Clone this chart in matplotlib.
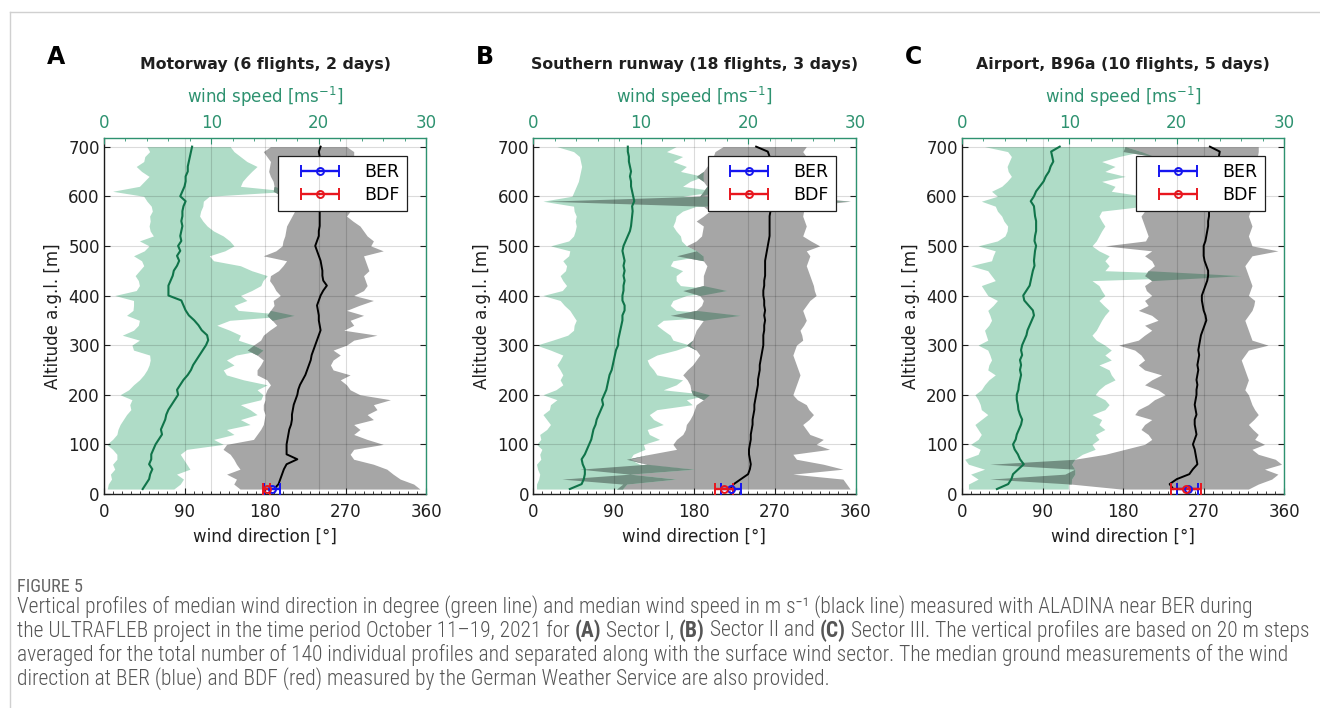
import numpy as np
import matplotlib
matplotlib.use("Agg")
import matplotlib.pyplot as plt
from matplotlib.lines import Line2D
from matplotlib.ticker import MultipleLocator, FixedLocator
from matplotlib.colors import to_rgb
from matplotlib.legend_handler import HandlerErrorbar
from matplotlib.container import ErrorbarContainer

plt.rcParams["font.family"] = ["DejaVu Sans"]
plt.rcParams["mathtext.default"] = "regular"

W, H, DPI = 1320, 708, 100

# altitude above ground level [m], 10 m bins
ALT = np.arange(10, 701, 10)

# ---------------- Sector I: Motorway ----------------
A_SPD_MED = [3.6, 3.9, 4.2, 4.3, 4.5, 4.2, 4.4, 4.4, 4.6, 4.8,
             5.1, 5.4, 5.3, 5.5, 5.7, 5.8, 6.0, 6.3, 6.6, 6.9,
             6.8, 7.1, 7.4, 7.8, 8.1, 8.3, 8.6, 8.9, 9.2, 9.5,
             9.7, 9.6, 9.1, 8.8, 8.4, 7.9, 7.6, 7.4, 7.2, 6.0,
             6.0, 6.0, 6.2, 6.4, 6.5, 6.8, 7.0, 6.8, 7.1, 6.9,
             7.2, 7.1, 7.2, 7.3, 7.2, 7.3, 7.3, 7.4, 7.6, 7.1,
             7.3, 7.5, 7.6, 7.6, 7.8, 7.8, 7.9, 8.0, 8.1, 8.2]
A_SPD_LO = [0.3, 0.4, 0.7, 0.6, 1.0, 0.8, 1.2, 1.2, 0.8, 0.25,
            0.8, 1.2, 1.3, 1.5, 1.8, 2.1, 2.5, 2.4, 2.6, 1.5,
            2.3, 2.75, 3.3, 3.7, 4.0, 4.2, 4.3, 4.25, 2.75, 2.6,
            3.3, 1.7, 2.75, 3.2, 3.3, 2.1, 2.7, 2.75, 2.75, 1.0,
            3.0, 3.3, 3.2, 2.9, 3.3, 3.7, 3.5, 2.75, 3.75, 4.2,
            3.3, 4.6, 4.3, 4.2, 4.3, 4.25, 4.5, 4.4, 4.0, 3.7,
            0.8, 3.3, 3.75, 4.2, 3.5, 3.0, 3.7, 3.8, 4.25, 4.0]
A_SPD_HI = [6.5, 7.1, 7.4, 6.75, 8.0, 7.7, 7.4, 7.1, 7.7, 11.1,
            10.2, 12.1, 11.4, 13.6, 12.7, 14.25, 13.6, 12.7, 14.6, 14.8,
            14.25, 15.2, 13.0, 11.4, 11.1, 12.1, 11.4, 12.3, 14.8, 13.9,
            12.5, 12.7, 11.7, 10.5, 11.7, 17.7, 12.5, 12.1, 13.3, 12.7,
            13.75, 14.6, 14.8, 15.2, 13.75, 12.7, 10.2, 9.8, 11.25, 12.1,
            11.7, 11.1, 10.2, 9.6, 9.2, 8.9, 9.0, 9.2, 9.25, 9.8,
            17.3, 12.7, 12.9, 13.3, 13.75, 14.25, 13.3, 12.7, 12.1, 11.75]
A_DIR_MED = [190, 195, 197, 199, 201, 204, 216, 204, 204, 204,
             205, 206, 207, 209, 210, 210, 211, 212, 214, 216,
             217, 219, 222, 225, 227, 229, 231, 232, 234, 236,
             238, 240, 242, 241, 240, 240, 239, 238, 240, 242,
             245, 249, 245, 244, 244, 243, 242, 240, 238, 236,
             238, 240, 240, 241, 241, 241, 241, 242, 242, 242,
             242, 242, 242, 242, 242, 242, 241, 241, 240, 242]
A_DIR_LO = [152, 145, 148, 137, 152, 148, 145, 141, 133, 137,
            167, 171, 175, 178, 179, 180, 178, 178, 180, 180,
            182, 186, 182, 171, 171, 175, 178, 171, 160, 167,
            175, 178, 185, 193, 188, 182, 186, 190, 189, 197,
            192, 189, 185, 186, 195, 200, 204, 178, 192, 199,
            200, 202, 203, 204, 207, 210, 213, 215, 212, 200,
            189, 190, 189, 186, 184, 185, 186, 182, 178, 186]
A_DIR_HI = [353, 346, 331, 323, 316, 301, 279, 275, 279, 312,
            294, 279, 286, 279, 301, 294, 305, 301, 320, 286,
            275, 271, 264, 275, 256, 253, 256, 264, 256, 271,
            279, 305, 268, 279, 275, 290, 271, 285, 301, 279,
            290, 294, 292, 290, 296, 294, 292, 290, 312, 298,
            301, 294, 290, 286, 278, 271, 275, 280, 285, 285,
            285, 280, 280, 275, 275, 275, 278, 279, 279, 271]

# ---------------- Sector II: Southern runway ----------------
B_SPD_MED = [3.4, 4.5, 4.7, 4.8, 4.8, 4.6, 4.5, 4.8, 5.0, 5.2,
             5.4, 5.5, 5.6, 5.8, 5.9, 6.1, 6.3, 6.5, 6.4, 6.6,
             6.8, 6.9, 7.0, 7.1, 7.3, 7.4, 7.5, 7.6, 7.7, 7.9,
             7.9, 8.0, 8.1, 8.2, 8.3, 8.3, 8.5, 8.5, 8.3, 8.3,
             8.4, 8.4, 8.5, 8.4, 8.5, 8.4, 8.5, 8.4, 8.3, 8.4,
             8.6, 8.8, 9.0, 9.1, 9.15, 9.2, 9.25, 9.2, 9.4, 9.3,
             9.2, 9.1, 9.1, 9.0, 9.1, 9.0, 8.9, 8.9, 8.8, 8.8]
B_SPD_LO = [0.3, 0.3, 0.5, 0.6, 0.4, 0.3, 0.7, 0.6, 0.8, 0.3,
            0.7, 0.6, 1.25, 1.6, 1.25, 0.9, 1.5, 1.6, 2.2, 0.9,
            2.1, 2.75, 2.5, 2.75, 2.5, 2.2, 2.5, 2.75, 1.6, 0.3,
            1.8, 3.2, 3.75, 3.8, 4.0, 3.7, 3.4, 2.9, 2.5, 0.9,
            2.7, 3.1, 2.75, 2.5, 3.0, 3.1, 2.75, 3.3, 3.4, 1.6,
            3.3, 3.75, 3.9, 4.0, 3.9, 4.0, 3.8, 3.75, 0.9, 3.6,
            3.8, 4.0, 4.2, 4.3, 4.4, 4.5, 4.4, 4.3, 3.75, 2.2]
B_SPD_HI = [8.3, 8.7, 13.3, 9.0, 15.0, 9.9, 9.0, 9.3, 10.4, 10.25,
            11.75, 10.8, 10.6, 12.1, 11.2, 10.8, 11.5, 14.8, 14.25, 16.4,
            12.1, 13.3, 13.9, 11.5, 11.2, 10.8, 10.6, 11.5, 13.3, 14.6,
            13.0, 12.75, 12.1, 11.5, 12.1, 19.25, 13.3, 12.75, 13.0, 14.25,
            18.0, 13.7, 13.3, 13.3, 13.9, 12.75, 13.0, 15.8, 15.2, 14.25,
            13.8, 13.7, 13.3, 13.0, 13.2, 13.3, 13.9, 15.2, 29.5, 13.9,
            17.1, 13.9, 14.6, 15.8, 13.7, 14.25, 13.0, 13.9, 12.4, 13.3]
B_DIR_MED = [220, 224, 232, 240, 242, 243, 242, 241, 241, 242,
             243, 243, 244, 245, 245, 246, 247, 247, 248, 249,
             250, 251, 251, 252, 253, 253, 254, 255, 256, 257,
             257, 257, 258, 258, 259, 258, 259, 258, 258, 257,
             257, 258, 258, 259, 259, 259, 259, 260, 261, 262,
             263, 264, 264, 264, 264, 264, 265, 265, 265, 265,
             265, 265, 265, 265, 264, 264, 264, 264, 262, 249]
B_DIR_LO = [93, 100, 32, 108, 52, 127, 104, 130, 160, 156,
            160, 167, 170, 171, 175, 178, 180, 182, 190, 178,
            176, 175, 172, 167, 172, 178, 182, 186, 182, 171,
            178, 180, 182, 186, 190, 153, 182, 188, 190, 186,
            167, 190, 190, 190, 192, 194, 190, 160, 182, 171,
            182, 188, 189, 190, 182, 190, 197, 190, 15, 186,
            190, 194, 190, 182, 190, 194, 198, 201, 203, 212]
B_DIR_HI = [354, 350, 346, 290, 346, 324, 294, 290, 331, 316,
            324, 309, 305, 301, 308, 313, 308, 305, 295, 290,
            292, 294, 296, 298, 296, 294, 292, 290, 292, 294,
            301, 300, 298, 302, 305, 303, 301, 305, 309, 316,
            314, 313, 311, 309, 307, 305, 307, 309, 305, 320,
            310, 301, 303, 305, 303, 301, 302, 303, 354, 303,
            303, 303, 303, 303, 303, 303, 304, 305, 301, 305]

# ---------------- Sector III: Airport, B96a ----------------
C_SPD_MED = [3.25, 4.3, 4.6, 4.75, 5.25, 5.75, 5.4, 5.2, 4.9, 4.75,
             5.0, 5.1, 5.3, 5.5, 5.6, 5.4, 5.25, 5.2, 5.1, 5.1,
             5.25, 5.3, 5.4, 5.5, 5.4, 5.5, 5.4, 5.6, 5.5, 5.6,
             5.8, 6.0, 6.1, 6.3, 6.5, 6.7, 6.6, 6.2, 5.8, 5.7,
             6.0, 6.3, 6.4, 6.5, 6.6, 6.75, 6.7, 6.75, 6.8, 6.9,
             6.75, 6.8, 6.9, 6.9, 6.9, 6.8, 6.75, 6.7, 6.4, 6.7,
             6.9, 7.25, 7.6, 7.8, 8.1, 8.25, 8.5, 8.4, 8.3, 9.1]
C_SPD_LO = [0.6, 0.6, 1.5, 0.8, 2.1, 0.6, 0.25, 1.5, 1.7, 0.8,
            1.5, 1.8, 1.5, 1.2, 1.8, 2.4, 1.8, 1.7, 1.5, 1.2,
            1.8, 2.1, 2.5, 3.1, 2.4, 2.5, 2.75, 2.6, 2.4, 1.5,
            2.4, 2.25, 2.1, 2.5, 2.75, 2.6, 2.4, 2.9, 3.3, 2.4,
            2.1, 1.8, 3.1, 2.75, 2.4, 0.8, 2.75, 2.9, 3.1, 1.5,
            3.3, 4.0, 4.2, 4.25, 3.9, 3.7, 3.3, 3.1, 1.8, 3.3,
            2.75, 3.7, 4.2, 4.6, 4.3, 4.2, 4.4, 4.6, 4.25, 2.1]
C_SPD_HI = [9.9, 9.9, 10.2, 10.5, 10.5, 10.2, 10.5, 11.2, 12.4, 12.1,
            12.75, 12.4, 13.3, 12.75, 13.0, 12.1, 13.3, 13.7, 13.3, 12.4,
            12.75, 13.3, 14.25, 13.9, 13.7, 12.75, 13.9, 13.3, 13.9, 13.3,
            12.5, 12.1, 12.5, 12.75, 13.0, 13.3, 13.7, 13.2, 12.75, 13.3,
            13.0, 12.75, 12.1, 26.0, 13.3, 13.7, 13.3, 13.7, 12.75, 12.1,
            12.5, 12.75, 13.0, 13.3, 13.0, 12.75, 13.0, 17.0, 18.25, 17.0,
            13.9, 14.25, 13.0, 15.2, 13.3, 14.25, 13.0, 14.6, 16.7, 15.2]
C_DIR_MED = [236, 232, 240, 254, 258, 263, 262, 261, 260, 258,
             260, 262, 261, 260, 260, 262, 261, 260, 261, 262,
             262, 263, 262, 263, 264, 263, 264, 265, 264, 265,
             266, 267, 269, 271, 273, 272, 270, 269, 268, 268,
             270, 272, 274, 275, 275, 273, 271, 270, 270, 270,
             272, 273, 274, 275, 275, 276, 276, 277, 277, 277,
             278, 278, 279, 280, 281, 283, 285, 287, 288, 277]
C_DIR_LO = [178, 122, 31, 115, 126, 31, 126, 160, 182, 204,
            212, 208, 200, 204, 212, 193, 197, 208, 215, 227,
            219, 204, 212, 223, 204, 197, 204, 200, 193, 175,
            197, 204, 212, 204, 219, 212, 197, 208, 204, 212,
            206, 204, 212, 204, 208, 215, 212, 204, 212, 160,
            205, 208, 206, 204, 202, 200, 204, 205, 208, 210,
            205, 200, 200, 200, 200, 200, 205, 215, 180, 182]
C_DIR_HI = [320, 331, 346, 353, 338, 357, 350, 331, 324, 338,
            327, 331, 325, 320, 326, 331, 327, 324, 322, 320,
            316, 318, 320, 318, 316, 314, 312, 316, 320, 342,
            324, 322, 320, 318, 316, 320, 324, 326, 327, 320,
            322, 324, 322, 320, 318, 316, 320, 324, 353, 324,
            322, 320, 322, 324, 322, 320, 322, 324, 325, 325,
            325, 325, 325, 325, 325, 325, 328, 330, 331, 331]

# ground stations: median wind direction and spread [deg]
GROUND_ALT = 10
BER_DIR = [188, 221, 252]
BER_ERR = [9, 11, 12]
BDF_DIR = [182, 213, 250]
BDF_ERR = [4, 10, 17]

LETTERS = ["A", "B", "C"]
TITLES = ["Motorway (6 flights, 2 days)",
          "Southern runway (18 flights, 3 days)",
          "Airport, B96a (10 flights, 5 days)"]

DIR_TICKS = [0, 90, 180, 270, 360]
SPD_TICKS = [0, 10, 20, 30]
ALT_TICKS = [0, 100, 200, 300, 400, 500, 600, 700]
DIR_LIM = (0, 360)
SPD_LIM = (0, 30)
ALT_LIM = (0, 718)

GREEN_FILL = "#afdcc7"
GREY_FILL = "#a6a6a6"
GREEN_LINE = "#10744a"
GREEN_AXIS = "#2e9270"
BLUE = "#1515f0"
RED = "#e8161e"
INK = "#1f1f1f"
TEXT_GREY = "#555555"
# where the two envelopes overlap the colours combine multiplicatively
OVERLAP = tuple(a * b for a, b in zip(to_rgb(GREEN_FILL), to_rgb(GREY_FILL)))

panels = [
    (A_SPD_MED, A_SPD_LO, A_SPD_HI, A_DIR_MED, A_DIR_LO, A_DIR_HI),
    (B_SPD_MED, B_SPD_LO, B_SPD_HI, B_DIR_MED, B_DIR_LO, B_DIR_HI),
    (C_SPD_MED, C_SPD_LO, C_SPD_HI, C_DIR_MED, C_DIR_LO, C_DIR_HI),
]

fig = plt.figure(figsize=(W / DPI, H / DPI), dpi=DPI)
fig.patch.set_facecolor("white")


def fx(px):
    return px / W


def fy(py):
    return 1 - py / H


# page frame
fig.add_artist(Line2D([fx(10), 1.0], [fy(12), fy(12)], color="#d0d0d0", lw=1.0))
fig.add_artist(Line2D([fx(10), fx(10)], [fy(12), 0.0], color="#d0d0d0", lw=1.0))

AX_LEFT = [104, 533.3, 962]
AX_W = 322.2
AX_TOP, AX_BOT = 137.7, 494
FS = 12

for i, (spd_med, spd_lo, spd_hi, dir_med, dir_lo, dir_hi) in enumerate(panels):
    x0 = AX_LEFT[i]
    ax = fig.add_axes([fx(x0), fy(AX_BOT), fx(AX_W), (AX_BOT - AX_TOP) / H])
    ax2 = ax.twiny()
    ax.set_xlim(*DIR_LIM)
    ax.set_ylim(*ALT_LIM)
    ax2.set_xlim(*SPD_LIM)

    spd_lo = np.asarray(spd_lo, float)
    spd_hi = np.asarray(spd_hi, float)
    dir_lo = np.asarray(dir_lo, float)
    dir_hi = np.asarray(dir_hi, float)

    # wind direction envelope (grey)
    ax.fill_betweenx(ALT, dir_lo, dir_hi, color=GREY_FILL, lw=0, zorder=1)
    # wind speed envelope (green), drawn in speed units via the top axis
    ax.fill_betweenx(ALT, spd_lo, spd_hi, color=GREEN_FILL, lw=0, zorder=1.1,
                     transform=ax2.transData)
    # overlap of both envelopes, expressed in direction units
    scale = (DIR_LIM[1] - DIR_LIM[0]) / (SPD_LIM[1] - SPD_LIM[0])
    ov_lo = np.maximum(spd_lo * scale, dir_lo)
    ov_hi = np.minimum(spd_hi * scale, dir_hi)
    ax.fill_betweenx(ALT, ov_lo, np.maximum(ov_lo, ov_hi), color=OVERLAP, lw=0,
                     zorder=1.2)

    ax.plot(spd_med, ALT, color=GREEN_LINE, lw=1.5, zorder=2,
            transform=ax2.transData)
    ax.plot(dir_med, ALT, color="black", lw=1.4, zorder=2)

    eb_kw = dict(fmt="o", ms=5, mfc="none", mew=1.4, elinewidth=1.7, capsize=4.5,
                 capthick=1.7, zorder=3)
    h_ber = ax.errorbar(BER_DIR[i], GROUND_ALT, xerr=BER_ERR[i], color=BLUE, **eb_kw)
    h_bdf = ax.errorbar(BDF_DIR[i], GROUND_ALT, xerr=BDF_ERR[i], color=RED, **eb_kw)

    # axes styling
    ax.set_axisbelow("line")
    ax.xaxis.set_major_locator(FixedLocator(DIR_TICKS))
    ax.xaxis.set_minor_locator(MultipleLocator(10))
    ax.yaxis.set_major_locator(FixedLocator(ALT_TICKS))
    ax2.xaxis.set_major_locator(FixedLocator(SPD_TICKS))
    ax2.xaxis.set_minor_locator(MultipleLocator(2))
    ax.grid(True, which="major", color="black", alpha=0.14, lw=0.8)
    ax2.grid(True, which="major", axis="x", color="black", alpha=0.14, lw=0.8)

    ax.tick_params(axis="both", which="both", direction="in", labelsize=FS,
                   colors=INK, right=True)
    ax.tick_params(axis="x", which="major", length=4.5, pad=6.5)
    ax.tick_params(axis="x", which="minor", length=2.5)
    ax.tick_params(axis="y", which="major", length=4.5, pad=3)
    ax2.tick_params(axis="x", which="both", direction="in", labelsize=FS,
                    colors=GREEN_AXIS, pad=4)
    ax2.tick_params(axis="x", which="major", length=4.5)
    ax2.tick_params(axis="x", which="minor", length=2.5)
    for s in ("top", "right"):
        ax.spines[s].set_visible(False)
        ax2.spines[s].set_color(GREEN_AXIS)
        ax2.spines[s].set_linewidth(1.0)
    for s in ("left", "bottom"):
        ax2.spines[s].set_visible(False)
        ax.spines[s].set_color(INK)
        ax.spines[s].set_linewidth(1.0)

    leg = ax.legend([h_ber, h_bdf], ["BER", "BDF"], loc="upper right",
                    bbox_to_anchor=(0.9395, 0.9486), borderaxespad=0,
                    fancybox=False, framealpha=1, edgecolor=INK,
                    fontsize=12.5, handlelength=3.95, handletextpad=0.6,
                    labelspacing=0.3, borderpad=0.4,
                    handler_map={ErrorbarContainer: HandlerErrorbar(xerr_size=1.1)})
    leg.get_frame().set_linewidth(0.9)
    leg.set_zorder(5)

    cx = x0 + AX_W / 2
    fig.text(fx(cx), fy(65), TITLES[i], ha="center", va="center",
             fontsize=11.3, fontweight="bold", color=INK)
    fig.text(fx(cx), fy(97), "wind speed [ms$^{-1}$]", ha="center", va="center",
             fontsize=FS, color=GREEN_AXIS)
    fig.text(fx(cx), fy(537), "wind direction [°]", ha="center", va="center",
             fontsize=FS, color=INK)
    fig.text(fx(x0 - 51), fy((AX_TOP + AX_BOT) / 2), "Altitude a.g.l. [m]",
             rotation=90, ha="center", va="center", fontsize=FS, color=INK)
    fig.text(fx(x0 - 48), fy(57), LETTERS[i], ha="center", va="center",
             fontsize=17, fontweight="bold", color="black")

# ---------------- caption ----------------
CAP_FAMILY = ["Roboto Condensed", "Noto Sans Condensed", "Open Sans Condensed",
              "DejaVu Sans Condensed", "Liberation Sans Narrow", "Liberation Sans"]
CAP_WEIGHT = "light"
CAP_LINES = [
    [("Vertical profiles of median wind direction in degree (green line) and median "
      "wind speed in m s⁻¹ (black line) measured with ALADINA near BER during", CAP_WEIGHT)],
    [("the ULTRAFLEB project in the time period October 11–19, 2021 for ", CAP_WEIGHT),
     ("(A)", "bold"), (" Sector I, ", CAP_WEIGHT), ("(B)", "bold"),
     (" Sector II and ", CAP_WEIGHT), ("(C)", "bold"),
     (" Sector III. The vertical profiles are based on 20 m steps", CAP_WEIGHT)],
    [("averaged for the total number of 140 individual profiles and separated along "
      "with the surface wind sector. The median ground measurements of the wind",
      CAP_WEIGHT)],
    [("direction at BER (blue) and BDF (red) measured by the German Weather Service "
      "are also provided.", CAP_WEIGHT)],
]
CAP_Y = [607, 631, 655, 679]
CAP_X0 = 17
CAP_RIGHT = [1266, 1310, 1310]  # right ends of the three full lines

renderer = fig.canvas.get_renderer()


def line_width(runs, size):
    total = 0.0
    for txt, weight in runs:
        t = fig.text(0, 0, txt, fontsize=size, fontweight=weight,
                     family=CAP_FAMILY, fontstretch="condensed")
        total += t.get_window_extent(renderer).width
        t.remove()
    return total


cap_size = min(12 * (r - CAP_X0) / line_width(runs, 12)
               for runs, r in zip(CAP_LINES[:3], CAP_RIGHT))

fig.text(fx(CAP_X0), fy(587), "FIGURE 5", ha="left", va="center",
         fontsize=cap_size * 0.85, color="#666666", family=CAP_FAMILY,
         fontstretch="condensed")

for runs, yy in zip(CAP_LINES, CAP_Y):
    xx = CAP_X0
    for txt, weight in runs:
        t = fig.text(fx(xx), fy(yy), txt, ha="left", va="center", fontsize=cap_size,
                     fontweight=weight, color=TEXT_GREY, family=CAP_FAMILY,
                     fontstretch="condensed")
        xx += t.get_window_extent(renderer).width

fig.savefig("out.png", dpi=DPI, facecolor="white")
